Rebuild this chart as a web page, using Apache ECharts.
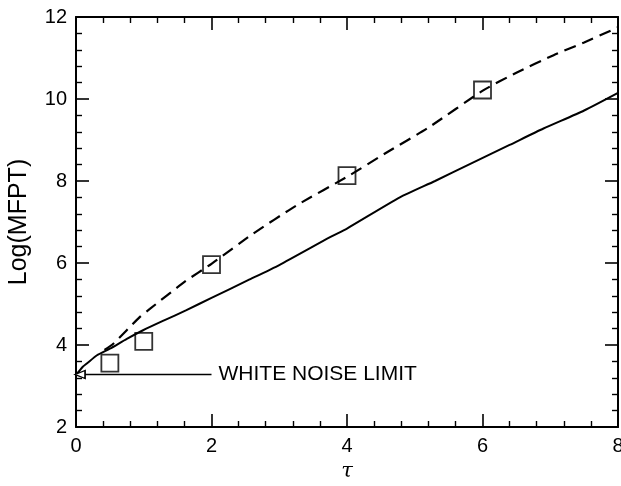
<!DOCTYPE html>
<html>
<head>
<meta charset="utf-8">
<script src="https://cdn.jsdelivr.net/npm/echarts@6/dist/echarts.min.js"></script>
<style>html,body{margin:0;padding:0;background:#fff}#c{width:621px;height:486px}</style>
</head>
<body>
<div id="c"></div>
<script>
// Solid curve (theory, full model)
const solidX = [0, 0.03, 0.1, 0.16, 0.31, 0.5, 0.75, 0.99, 1.3, 1.63, 2.0, 2.54, 3.0, 3.75, 4.0, 4.78, 5.3, 5.82, 6.4, 6.9, 7.5, 8.0];
const solidY = [3.3, 3.33, 3.47, 3.55, 3.75, 3.91, 4.15, 4.36, 4.6, 4.85, 5.15, 5.58, 5.95, 6.63, 6.84, 7.6, 8.0, 8.42, 8.88, 9.28, 9.72, 10.15];
// Dashed curve
const dashX = [0.42, 0.55, 0.94, 1.09, 1.61, 2.0, 2.6, 3.26, 4.04, 4.61, 5.2, 6.01, 6.5, 7.05, 7.5, 7.91, 8.0];
const dashY = [3.88, 4.03, 4.68, 4.88, 5.55, 5.98, 6.7, 7.41, 8.14, 8.72, 9.3, 10.21, 10.64, 11.07, 11.38, 11.68, 11.75];
// Simulation points (squares)
const simX = [0.5, 1, 2, 4, 6];
const simY = [3.56, 4.09, 5.96, 8.13, 10.22];
// White noise limit annotation
const whiteNoiseY = 3.28;
const whiteNoiseX = [0.06, 2.0];
const whiteNoiseText = 'WHITE NOISE LIMIT';
const xTicks = [0, 2, 4, 6, 8];
const yTicks = [2, 4, 6, 8, 10, 12];

const font = '"Liberation Sans", Arial, Helvetica, sans-serif';
const zip = (a, b) => a.map((v, i) => [v, b[i]]);

function axisCommon(showLabel) {
  return {
    type: 'value',
    axisLine: { show: true, onZero: false, lineStyle: { color: '#000', width: 2 } },
    axisTick: { show: true, inside: true, length: 13, lineStyle: { color: '#000', width: 1.6 } },
    minorTick: { show: true, splitNumber: 5, length: 6, lineStyle: { color: '#000', width: 1.4 } },
    splitLine: { show: false },
    minorSplitLine: { show: false },
    axisLabel: { show: showLabel, color: '#000', fontSize: 20, fontFamily: font, margin: 9 }
  };
}

const chart = echarts.init(document.getElementById('c'), null, { renderer: 'canvas' });
chart.setOption({
  animation: false,
  backgroundColor: '#fff',
  grid: { left: 76, right: 3, top: 17, bottom: 59, containLabel: false, outerBoundsMode: 'none' },
  xAxis: [
    Object.assign(axisCommon(true), {
      min: xTicks[0], max: xTicks[xTicks.length - 1], interval: 2, position: 'bottom',
      name: 'τ', nameLocation: 'middle', nameGap: 32,
      nameTextStyle: { color: '#000', fontSize: 21, fontStyle: 'italic', fontFamily: '"DejaVu Serif", "Liberation Serif", serif' }
    }),
    Object.assign(axisCommon(false), {
      min: xTicks[0], max: xTicks[xTicks.length - 1], interval: 2, position: 'top'
    })
  ],
  yAxis: [
    Object.assign(axisCommon(true), {
      min: yTicks[0], max: yTicks[yTicks.length - 1], interval: 2, position: 'left',
      name: 'Log(MFPT)', nameLocation: 'middle', nameGap: 44,
      nameTextStyle: { color: '#000', fontSize: 25, fontFamily: font }
    }),
    Object.assign(axisCommon(false), {
      min: yTicks[0], max: yTicks[yTicks.length - 1], interval: 2, position: 'right'
    })
  ],
  series: [
    {
      type: 'line', data: zip(solidX, solidY), showSymbol: false, smooth: 0.2,
      lineStyle: { color: '#000', width: 2 }, z: 3
    },
    {
      type: 'line', data: zip(dashX, dashY), showSymbol: false, smooth: 0.2,
      lineStyle: { color: '#000', width: 2.2, type: [12, 7] }, z: 3
    },
    {
      type: 'scatter', data: zip(simX, simY), symbol: 'rect', symbolSize: 17,
      itemStyle: { color: 'rgba(0,0,0,0)', borderColor: '#000', borderWidth: 1.8 }, z: 4
    },
    {
      type: 'line',
      data: [
        { value: [whiteNoiseX[0], whiteNoiseY], symbol: 'triangle', symbolRotate: 90, symbolSize: [8, 10] },
        { value: [whiteNoiseX[1], whiteNoiseY], symbol: 'none' }
      ],
      showSymbol: true,
      itemStyle: { color: '#fff', borderColor: '#000', borderWidth: 1.5 },
      lineStyle: { color: '#000', width: 1.5 },
      endLabel: { show: true, formatter: whiteNoiseText, color: '#000', fontSize: 21, fontFamily: font, distance: 7 },
      z: 5
    }
  ]
});
</script>
</body>
</html>
